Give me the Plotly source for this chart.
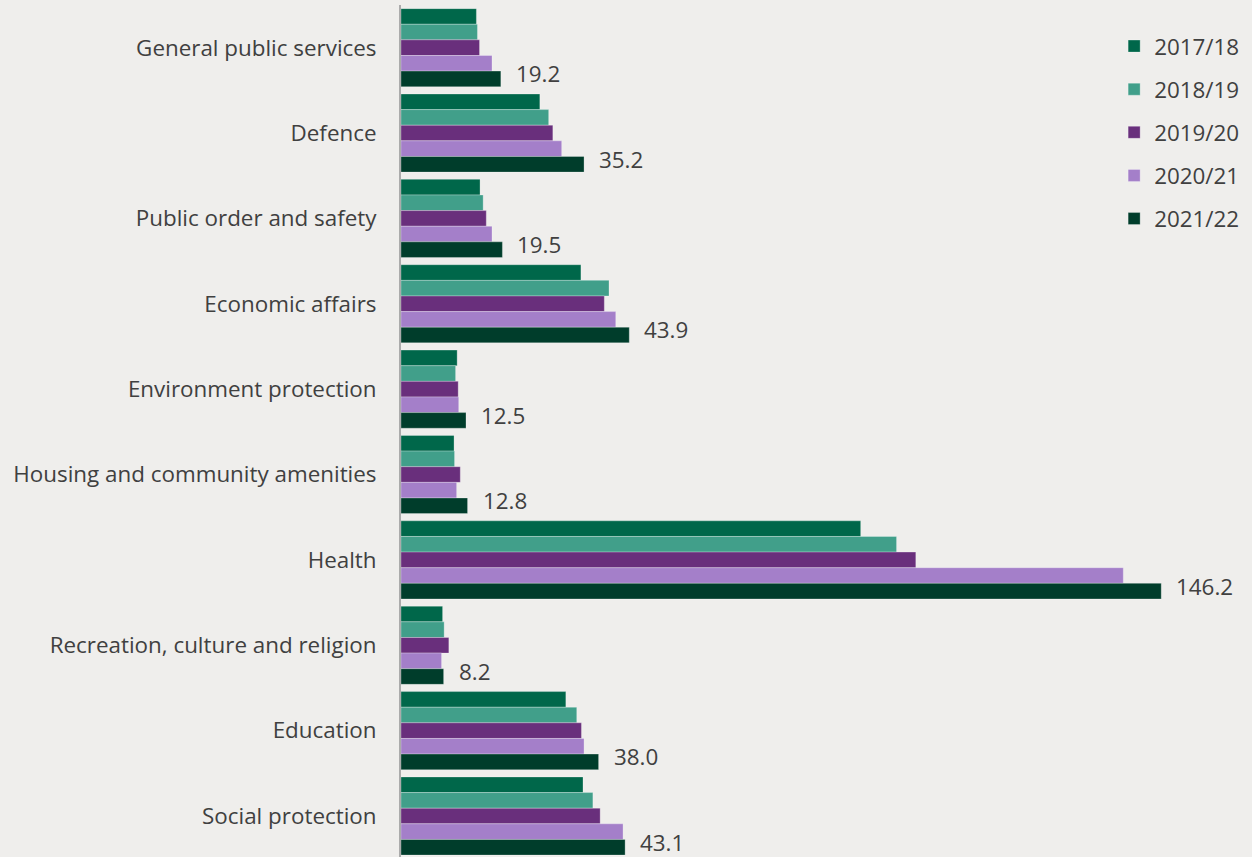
import plotly.graph_objects as go

categories = ["General public services", "Defence", "Public order and safety",
              "Economic affairs", "Environment protection",
              "Housing and community amenities", "Health",
              "Recreation, culture and religion", "Education", "Social protection"]

years = ["2017/18", "2018/19", "2019/20", "2020/21", "2021/22"]

v_2017_18 = [14.5, 26.7, 15.2, 34.6, 10.8, 10.2, 88.4, 8.0, 31.7, 35.0]
v_2018_19 = [14.7, 28.4, 15.8, 40.0, 10.5, 10.3, 95.3, 8.3, 33.8, 36.9]
v_2019_20 = [15.1, 29.2, 16.4, 39.1, 11.0, 11.4, 99.0, 9.2, 34.7, 38.3]
v_2020_21 = [17.5, 30.9, 17.5, 41.3, 11.1, 10.7, 138.9, 7.8, 35.2, 42.7]
v_2021_22 = [19.2, 35.2, 19.5, 43.9, 12.5, 12.8, 146.2, 8.2, 38.0, 43.1]

series = [v_2017_18, v_2018_19, v_2019_20, v_2020_21, v_2021_22]
colors = ["#00674A", "#419F8A", "#692F7C", "#A47FC9", "#003D2B"]

FONT = "Open Sans"
FS = 22.4
TXT = "#404040"
BARGAP = 0.085

fig = go.Figure()
for name, vals, col in zip(years, series, colors):
    fig.add_trace(go.Bar(
        y=categories, x=vals, name=name, orientation="h",
        marker=dict(color=col, line=dict(color="rgba(255,255,255,0.35)", width=0.8)),
        legendgroup=name, hoverinfo="x+name",
    ))

w = (1 - BARGAP) / len(years)
offset = -(1 - BARGAP) / 2 + (len(years) - 0.5) * w
annotations = []
for i, v in enumerate(v_2021_22):
    annotations.append(dict(
        x=v, y=i + offset - 0.06, xref="x", yref="y", text=f"{v:.1f}",
        showarrow=False, xanchor="left", yanchor="middle", xshift=13,
        font=dict(family=FONT, size=FS, color=TXT),
    ))

L, R = 401, 0
px_per_unit = 5.2
xmax = (1252 - L - R) / px_per_unit

fig.update_layout(
    width=1252, height=857,
    margin=dict(l=L, r=R, t=5, b=0, pad=0),
    paper_bgcolor="#EFEEEC", plot_bgcolor="#EFEEEC",
    barmode="group", bargap=BARGAP, bargroupgap=0,
    font=dict(family=FONT, size=FS, color=TXT),
    xaxis=dict(range=[0, xmax], visible=False, showgrid=False, zeroline=False, fixedrange=True),
    yaxis=dict(categoryorder="array", categoryarray=categories,
               range=[len(categories) - 0.52, -0.5],
               showline=True, linecolor="#ABABAB", linewidth=2, ticks="",
               showgrid=False, zeroline=False, ticklabelstandoff=18,
               tickfont=dict(family=FONT, size=FS, color=TXT)),
    legend=dict(x=0.838, y=0.9765, xanchor="left", yanchor="top",
                bgcolor="rgba(0,0,0,0)", traceorder="grouped", tracegroupgap=11,
                font=dict(family=FONT, size=FS, color=TXT), itemwidth=30),
    annotations=annotations,
    showlegend=True,
)

fig.write_html("out.html")
